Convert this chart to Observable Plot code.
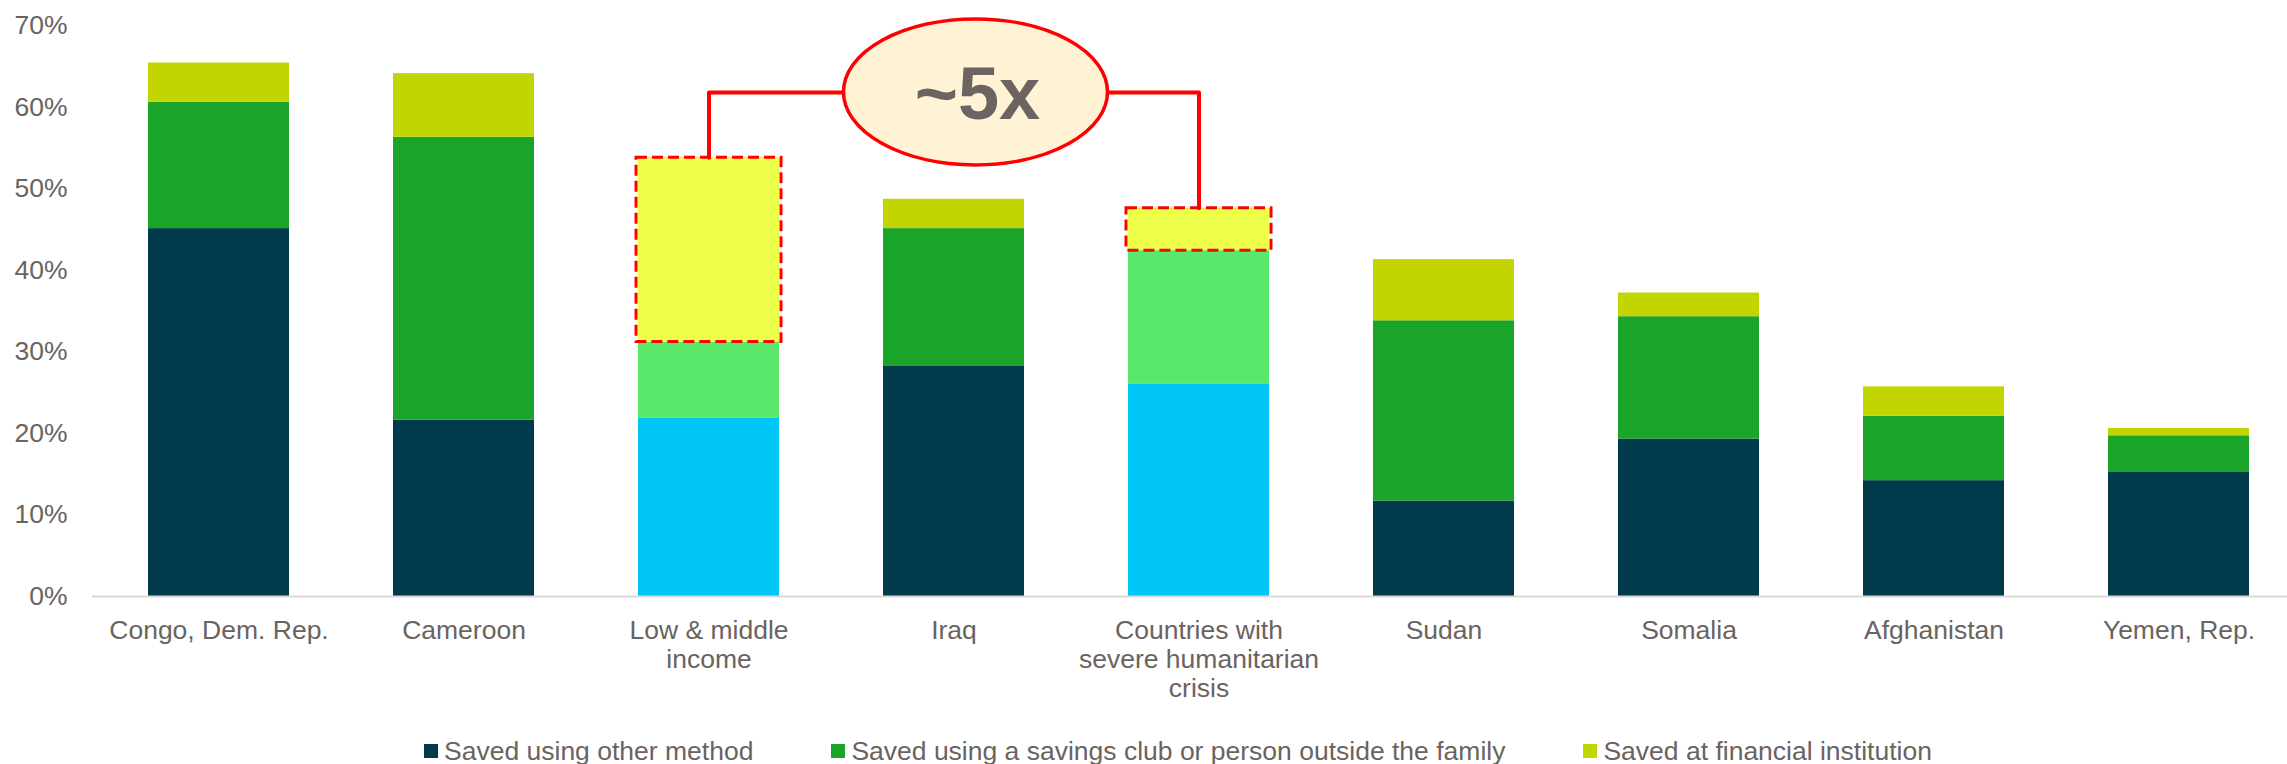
<!DOCTYPE html>
<html>
<head>
<meta charset="utf-8">
<script src="https://cdn.jsdelivr.net/npm/d3@7"></script>
<script src="https://cdn.jsdelivr.net/npm/@observablehq/plot@0.6"></script>
<style>
  body { margin: 0; background: #fff; font-family: "Liberation Sans", Arial, sans-serif; }
  #legend { display: flex; align-items: center; height: 30px; margin-top: 21px; padding-left: 424px; font-size: 26.5px; color: #6a6360; }
  .item { display: flex; align-items: center; margin-right: 78px; white-space: nowrap; }
  .sw { width: 13.5px; height: 13.5px; margin-right: 6.5px; flex: none; }
</style>
</head>
<body>
<div id="chart"></div>
<div id="legend"></div>
<script>
const categories = ["Congo, Dem. Rep.", "Cameroon", "Low & middle income", "Iraq", "Countries with severe humanitarian crisis", "Sudan", "Somalia", "Afghanistan", "Yemen, Rep."];
const tickLabels = ["Congo, Dem. Rep.", "Cameroon", "Low & middle\nincome", "Iraq", "Countries with\nsevere humanitarian\ncrisis", "Sudan", "Somalia", "Afghanistan", "Yemen, Rep."];
const savedOther     = [45.1, 21.6, 21.9, 28.2, 26.0, 11.7, 19.3, 14.2, 15.2];
const savedClub      = [15.5, 34.7,  9.3, 16.9, 16.4, 22.1, 15.0,  7.9,  4.5];
const savedFinancial = [ 4.8,  7.8, 22.6,  3.6,  5.2,  7.5,  2.9,  3.6,  0.9];
const seriesNames = ["Saved using other method", "Saved using a savings club or person outside the family", "Saved at financial institution"];
const seriesColors = ["#013a4a", "#1aa52a", "#c2d500"];
const highlightColors = ["#00c5f7", "#5ae86a", "#eeff4a"];
const highlighted = ["Low & middle income", "Countries with severe humanitarian crisis"];
const yTicks = [0, 10, 20, 30, 40, 50, 60, 70];
const annotationText = "~5x";
const annotationLevel = 61.8;

const seriesValues = [savedOther, savedClub, savedFinancial];
const rows = [];
seriesValues.forEach((vals, s) => {
  categories.forEach((c, i) => {
    const hl = highlighted.includes(c);
    rows.push({category: c, series: seriesNames[s], value: vals[i], color: hl ? highlightColors[s] : seriesColors[s]});
  });
});

const boxes = highlighted.map(c => {
  const i = categories.indexOf(c);
  return {category: c, y1: savedOther[i] + savedClub[i], y2: savedOther[i] + savedClub[i] + savedFinancial[i]};
});
const connector = [
  {category: highlighted[0], y: boxes[0].y2},
  {category: highlighted[0], y: annotationLevel},
  {category: highlighted[1], y: annotationLevel},
  {category: highlighted[1], y: boxes[1].y2}
];

const textColor = "#6a6360";
const plot = Plot.plot({
  width: 2287,
  height: 715,
  marginTop: 25,
  marginBottom: 119,
  marginLeft: 92,
  marginRight: 0,
  style: {fontFamily: '"Liberation Sans", Arial, sans-serif', fontSize: "26.5px", color: textColor, background: "#fff"},
  x: {domain: categories, range: [92, 2304], paddingInner: 0.425, paddingOuter: 0.2125, label: null},
  y: {domain: [0, 70], label: null},
  color: {type: "identity"},
  marks: [
    Plot.barY(rows, {x: "category", y: "value", fill: "color"}),
    Plot.ruleY([0], {stroke: "#d9d9d9", strokeWidth: 2}),
    Plot.axisY({ticks: yTicks, tickSize: 0, tickPadding: 25, tickFormat: d => d + "%", fill: textColor, fontSize: 26.5, label: null}),
    Plot.axisX({tickSize: 0, tickPadding: 22, tickFormat: d => tickLabels[categories.indexOf(d)], lineHeight: 1.1, fill: textColor, fontSize: 26.5, label: null}),
    Plot.barY(boxes, {x: "category", y1: "y1", y2: "y2", fill: "none", stroke: "#ff0000", strokeWidth: 3, strokeDasharray: "11,5", insetLeft: -2, insetRight: -2}),
    Plot.line(connector, {x: "category", y: "y", stroke: "#ff0000", strokeWidth: 4, curve: "linear"})
  ]
});

const xs = plot.scale("x"), ys = plot.scale("y");
const cx = xs.apply("Iraq") + xs.bandwidth / 2 + 22;
const cy = ys.apply(annotationLevel);
const g = d3.select(plot).append("g");
g.append("ellipse").attr("cx", cx).attr("cy", cy).attr("rx", 132).attr("ry", 73)
  .attr("fill", "#fff2d5").attr("stroke", "#ff0000").attr("stroke-width", 3.5);
g.append("text").attr("x", cx + 2).attr("y", cy + 27).attr("text-anchor", "middle")
  .attr("font-family", '"Liberation Sans", Arial, sans-serif').attr("font-weight", "bold")
  .attr("font-size", 74).attr("fill", "#6b6462").text(annotationText);

document.getElementById("chart").appendChild(plot);

const legend = document.getElementById("legend");
seriesNames.forEach((n, i) => {
  const item = document.createElement("div");
  item.className = "item";
  const sw = document.createElement("div");
  sw.className = "sw";
  sw.style.background = seriesColors[i];
  const t = document.createElement("span");
  t.textContent = n;
  item.appendChild(sw);
  item.appendChild(t);
  legend.appendChild(item);
});
</script>
</body>
</html>
